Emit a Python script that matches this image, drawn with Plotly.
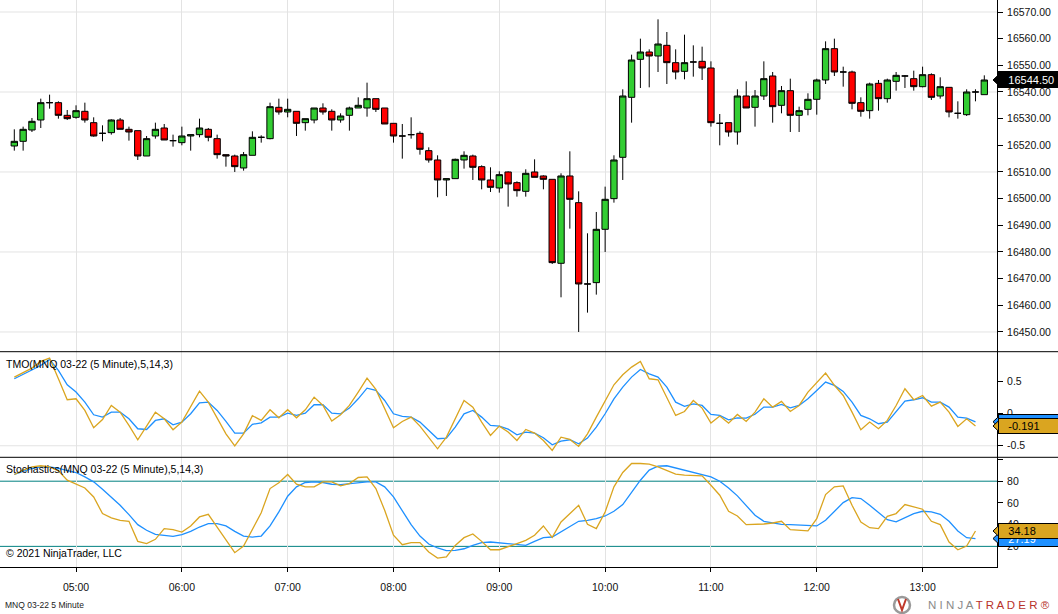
"""
MNQ 03-22 5 minute chart with TMO and Stochastics panels (NinjaTrader style)
"""

import pandas as pd
import plotly.graph_objects as go

# bar times (5 minute bars)
TIMES = pd.date_range("2021-12-13 04:25", periods=111, freq="5min")

OPEN = [16519.75, 16521.5, 16525.75, 16529.5, 16536.0, 16536.0, 16531.25, 16530.5, 16532.75, 16528.5,
        16524.5, 16524.75, 16529.5, 16526.0, 16525.5, 16516.0, 16523.5, 16526.5, 16521.75, 16521.0,
        16523.5, 16524.0, 16526.0, 16522.5, 16516.5, 16516.0, 16511.5, 16516.25, 16523.0, 16522.5,
        16534.25, 16532.5, 16532.75, 16528.5, 16529.5, 16534.0, 16532.75, 16529.5, 16531.25, 16534.0,
        16534.0, 16537.5, 16534.0, 16528.25, 16523.5, 16524.0, 16524.5, 16518.0, 16514.5, 16507.0,
        16507.5, 16514.5, 16516.0, 16512.0, 16507.0, 16504.0, 16510.0, 16506.0, 16502.75, 16510.0,
        16508.5, 16507.25, 16475.75, 16508.5, 16498.5, 16468.0, 16468.5, 16488.5, 16500.0, 16515.5,
        16538.0, 16552.25, 16555.0, 16553.5, 16557.5, 16551.0, 16547.75, 16551.25, 16551.5, 16549.0,
        16528.25, 16528.5, 16525.0, 16538.5, 16534.25, 16538.5, 16546.0, 16535.0, 16540.5, 16531.25,
        16533.5, 16537.25, 16544.5, 16556.25, 16547.5, 16547.5, 16536.0, 16533.0, 16543.25, 16537.5,
        16544.0, 16546.0, 16545.0, 16542.0, 16546.5, 16538.5, 16541.75, 16532.0, 16531.5, 16540.0,
        16539.0]
HIGH = [16526.0, 16527.0, 16530.25, 16537.5, 16539.0, 16536.5, 16533.25, 16535.0, 16536.0, 16530.5,
        16527.5, 16529.75, 16530.25, 16527.0, 16525.5, 16523.5, 16528.5, 16528.0, 16524.0, 16527.0,
        16524.0, 16530.0, 16526.5, 16524.0, 16516.5, 16516.5, 16517.5, 16525.25, 16523.75, 16536.0,
        16537.5, 16537.5, 16532.75, 16530.0, 16534.0, 16535.75, 16533.5, 16532.0, 16534.5, 16538.0,
        16543.5, 16537.5, 16534.0, 16528.25, 16528.0, 16530.5, 16525.25, 16519.25, 16516.25, 16507.5,
        16515.0, 16517.75, 16516.5, 16512.5, 16511.75, 16510.25, 16510.25, 16506.5, 16511.0, 16514.75,
        16508.75, 16507.25, 16509.5, 16517.75, 16502.75, 16487.0, 16495.0, 16504.5, 16516.25, 16541.0,
        16554.0, 16560.0, 16556.0, 16567.25, 16562.5, 16556.0, 16561.5, 16557.5, 16557.0, 16551.5,
        16531.75, 16528.5, 16541.0, 16544.0, 16540.75, 16551.5, 16547.5, 16542.25, 16545.0, 16534.5,
        16539.5, 16545.0, 16559.0, 16560.0, 16549.5, 16548.0, 16538.0, 16543.5, 16544.5, 16545.0,
        16547.5, 16546.25, 16548.0, 16549.5, 16547.0, 16545.5, 16541.75, 16536.5, 16541.0, 16541.0,
        16546.25]
LOW = [16518.0, 16518.0, 16525.0, 16526.5, 16533.75, 16530.0, 16529.5, 16530.0, 16528.5, 16523.25,
       16521.5, 16524.0, 16526.0, 16521.75, 16514.5, 16516.0, 16522.5, 16522.0, 16519.5, 16520.0,
       16518.0, 16523.0, 16521.5, 16515.0, 16512.0, 16510.0, 16510.5, 16516.25, 16521.0, 16522.25,
       16531.5, 16530.5, 16523.5, 16525.5, 16528.25, 16531.5, 16525.5, 16528.5, 16525.5, 16534.0,
       16530.75, 16532.5, 16528.0, 16521.0, 16515.0, 16522.5, 16516.5, 16513.5, 16500.5, 16501.0,
       16507.5, 16511.25, 16507.0, 16503.5, 16502.5, 16502.25, 16497.0, 16500.75, 16500.75, 16508.0,
       16503.5, 16475.5, 16463.0, 16488.75, 16450.0, 16457.25, 16464.0, 16480.0, 16498.5, 16507.0,
       16528.5, 16541.5, 16541.75, 16547.5, 16543.0, 16544.75, 16544.75, 16545.75, 16544.5, 16527.0,
       16520.0, 16523.25, 16520.25, 16534.0, 16527.0, 16537.0, 16528.5, 16532.0, 16525.0, 16525.0,
       16531.25, 16531.5, 16543.0, 16546.0, 16542.0, 16533.5, 16530.75, 16530.0, 16533.0, 16536.0,
       16540.5, 16541.5, 16540.5, 16541.75, 16537.0, 16537.5, 16530.5, 16530.0, 16531.0, 16536.5,
       16539.0]
CLOSE = [16521.5, 16526.0, 16529.0, 16536.0, 16536.0, 16531.25, 16530.0, 16533.0, 16529.5, 16523.5,
         16524.5, 16529.5, 16526.0, 16525.0, 16516.0, 16522.5, 16526.0, 16522.0, 16521.75, 16523.5,
         16524.0, 16526.5, 16523.0, 16516.5, 16516.0, 16512.0, 16516.5, 16523.0, 16523.0, 16534.5,
         16532.5, 16533.5, 16528.25, 16530.0, 16534.0, 16532.5, 16529.5, 16531.0, 16534.0, 16535.0,
         16537.5, 16533.5, 16528.0, 16523.5, 16523.5, 16524.0, 16518.5, 16514.5, 16507.0, 16507.5,
         16514.75, 16516.25, 16511.75, 16507.0, 16504.25, 16509.0, 16505.5, 16503.0, 16509.5, 16508.0,
         16507.25, 16476.0, 16508.5, 16499.75, 16468.0, 16468.0, 16488.5, 16499.75, 16514.5, 16538.5,
         16552.0, 16555.0, 16553.5, 16558.0, 16551.0, 16547.5, 16551.0, 16551.25, 16549.0, 16528.5,
         16528.25, 16525.0, 16538.5, 16534.0, 16538.5, 16545.0, 16534.5, 16540.5, 16531.25, 16533.0,
         16537.25, 16544.5, 16556.25, 16547.5, 16547.5, 16535.75, 16532.75, 16543.0, 16537.5, 16544.5,
         16546.25, 16546.0, 16542.0, 16546.5, 16538.0, 16542.0, 16532.5, 16532.0, 16540.0, 16540.0,
         16544.5]

# TMO(5,14,3): main line (goldenrod) and signal (dodger blue), last bar not calculated yet
TMO_MAIN = [0.573, 0.641, 0.714, 0.818, 0.870, 0.547, 0.219, 0.234, 0.052, -0.219,
            -0.089, 0.130, 0.026, -0.182, -0.406, -0.193, 0.026, -0.078, -0.250, -0.130,
            0.104, 0.354, 0.182, -0.068, -0.313, -0.500, -0.313, -0.030, -0.104, 0.063,
            -0.063, 0.063, -0.063, 0.063, 0.260, 0.130, -0.115, -0.016, 0.130, 0.339,
            0.557, 0.380, 0.078, -0.219, -0.120, -0.052, -0.193, -0.375, -0.547, -0.365,
            -0.078, 0.208, 0.104, -0.130, -0.339, -0.193, -0.286, -0.417, -0.245, -0.302,
            -0.417, -0.573, -0.365, -0.401, -0.510, -0.313, -0.052, 0.208, 0.453, 0.609,
            0.729, 0.818, 0.547, 0.531, 0.260, -0.026, 0.036, 0.208, 0.089, -0.146,
            -0.036, -0.146, -0.010, -0.120, 0.026, 0.234, 0.104, 0.193, 0.036, 0.130,
            0.339, 0.495, 0.635, 0.443, 0.286, 0.026, -0.250, -0.130, -0.234, -0.104,
            0.130, 0.391, 0.219, 0.286, 0.120, 0.182, 0.026, -0.198, -0.078, -0.191]
TMO_SIGNAL = [0.547, 0.615, 0.688, 0.755, 0.849, 0.677, 0.453, 0.339, 0.182, -0.016,
              -0.052, 0.026, 0.026, -0.078, -0.234, -0.245, -0.104, -0.078, -0.172, -0.130,
              0.000, 0.172, 0.182, 0.052, -0.120, -0.302, -0.302, -0.165, -0.141, -0.052,
              -0.052, 0.010, -0.026, 0.010, 0.141, 0.141, 0.010, 0.000, 0.089, 0.234,
              0.401, 0.365, 0.208, 0.000, -0.042, -0.052, -0.130, -0.260, -0.390, -0.380,
              -0.208, 0.000, 0.052, -0.052, -0.182, -0.193, -0.240, -0.328, -0.286, -0.302,
              -0.375, -0.484, -0.427, -0.406, -0.469, -0.380, -0.208, 0.000, 0.234, 0.417,
              0.573, 0.693, 0.625, 0.573, 0.417, 0.182, 0.115, 0.156, 0.130, -0.010,
              -0.026, -0.094, -0.063, -0.068, -0.008, 0.104, 0.104, 0.146, 0.094, 0.130,
              0.234, 0.365, 0.495, 0.443, 0.349, 0.182, -0.026, -0.078, -0.156, -0.130,
              0.026, 0.198, 0.219, 0.250, 0.182, 0.182, 0.104, -0.052, -0.068, -0.125]

# Stochastics(5,14,3): K (goldenrod) and D (dodger blue)
STOCH_K = [86.2, 90.2, 93.2, 94.2, 93.2, 89.5, 80.9, 77.2, 73.8, 65.5,
           50.2, 46.2, 44.0, 43.1, 24.6, 22.5, 26.5, 36.3, 35.4, 33.2,
           38.8, 47.1, 49.5, 37.8, 25.5, 14.2, 20.3, 35.0, 51.0, 73.2,
           78.5, 86.2, 77.2, 74.8, 74.8, 79.4, 79.4, 75.7, 77.8, 83.4,
           84.0, 73.2, 53.2, 30.2, 21.5, 23.4, 23.4, 14.8, 9.2, 10.2,
           20.9, 28.0, 31.4, 24.6, 16.9, 16.9, 19.4, 22.5, 25.5, 30.2,
           38.8, 28.3, 42.5, 50.2, 57.8, 40.3, 36.3, 51.7, 74.8, 88.0,
           96.3, 96.3, 95.7, 93.2, 89.5, 86.5, 85.5, 85.5, 84.9, 76.3,
           67.1, 52.3, 48.0, 40.0, 40.0, 40.6, 41.5, 43.1, 35.4, 34.8,
           34.2, 45.5, 67.7, 74.8, 75.7, 57.8, 42.5, 37.2, 36.3, 47.7,
           50.2, 58.5, 56.3, 54.2, 43.1, 40.0, 24.0, 16.9, 20.3, 34.18]
STOCH_D = [86.2, 89.2, 91.7, 93.2, 93.2, 91.7, 90.2, 88.0, 84.0, 79.4,
           72.6, 65.5, 57.8, 49.2, 40.0, 34.8, 31.1, 30.2, 29.2, 30.8,
           33.8, 37.8, 40.9, 40.9, 38.8, 33.8, 29.5, 28.5, 29.5, 38.8,
           51.7, 66.2, 74.8, 78.8, 79.4, 78.8, 77.2, 76.9, 77.8, 78.5,
           79.4, 79.4, 74.8, 65.5, 52.3, 40.0, 29.5, 22.2, 18.5, 16.0,
           16.3, 17.8, 20.9, 23.4, 24.0, 23.1, 22.2, 21.5, 20.9, 24.6,
           28.0, 28.6, 33.2, 37.8, 43.1, 44.0, 45.5, 48.0, 52.3, 58.5,
           70.2, 80.9, 90.2, 93.8, 94.2, 92.3, 90.2, 88.0, 86.5, 84.0,
           80.0, 73.8, 66.5, 57.2, 48.6, 43.1, 41.5, 40.3, 40.0, 39.4,
           38.8, 38.8, 44.0, 52.3, 60.3, 64.9, 64.0, 57.8, 50.8, 44.6,
           42.5, 46.2, 50.2, 52.3, 51.7, 49.5, 43.1, 34.2, 28.0, 27.19]

STOCH_LEVELS = [20, 80]
STOCH_TICKS = [20, 40, 60, 80, 100]
TMO_TICKS = [-0.5, 0, 0.5]
TMO_GRID = [-0.5]
PRICE_GRID = [16450, 16480, 16510, 16540, 16570]

GREEN = "#32CD32"
RED = "#FF0000"
GOLD = "#DAA520"
BLUE = "#1E90FF"
TEAL = "#008080"
GRID = "#E3E3E3"
FONT = "Arial, 'Liberation Sans', sans-serif"


def add_tag(fig, yref, value, text, bg, fg, h=12):
    """Right-hand value marker (notched box) like NinjaTrader's price markers"""
    fig.add_shape(type="path", xref="paper", yref=yref,
                  xsizemode="pixel", ysizemode="pixel", xanchor=1.001, yanchor=value,
                  path="M 3 -7.5 L -5 0 L 3 7.5 Z",
                  fillcolor=bg, line=dict(color="black", width=1), layer="above")
    fig.add_annotation(xref="paper", yref=yref, x=1.001, y=value, xanchor="left", yanchor="middle",
                       text="\u00a0\u00a0\u2009" + text, showarrow=False, align="left",
                       width=62, height=h,
                       bgcolor=bg, bordercolor="black", borderwidth=1, borderpad=1,
                       font=dict(family=FONT, size=11, color=fg))


def create_chart(output_path="out.html"):
    fig = go.Figure()

    ind_x = TIMES[:len(TMO_MAIN)]

    fig.add_trace(go.Candlestick(
        x=TIMES, open=OPEN, high=HIGH, low=LOW, close=CLOSE,
        increasing=dict(fillcolor=GREEN, line=dict(color="black", width=1)),
        decreasing=dict(fillcolor=RED, line=dict(color="black", width=1)),
        whiskerwidth=0, hoverinfo="skip", showlegend=False, xaxis="x", yaxis="y"))

    fig.add_trace(go.Scatter(x=ind_x, y=TMO_SIGNAL, mode="lines", line=dict(color=BLUE, width=1.3),
                             xaxis="x2", yaxis="y2", showlegend=False, hoverinfo="skip"))
    fig.add_trace(go.Scatter(x=ind_x, y=TMO_MAIN, mode="lines", line=dict(color=GOLD, width=1.3),
                             xaxis="x2", yaxis="y2", showlegend=False, hoverinfo="skip"))
    fig.add_trace(go.Scatter(x=ind_x, y=STOCH_D, mode="lines", line=dict(color=BLUE, width=1.3),
                             xaxis="x3", yaxis="y3", showlegend=False, hoverinfo="skip"))
    fig.add_trace(go.Scatter(x=ind_x, y=STOCH_K, mode="lines", line=dict(color=GOLD, width=1.3),
                             xaxis="x3", yaxis="y3", showlegend=False, hoverinfo="skip"))

    # panel heights in pixels of a 567px plot area
    plot_h = 567.0
    price_dom = [1 - 351.7 / plot_h, 1]
    tmo_dom = [1 - 457.3 / plot_h, 1 - 351.7 / plot_h]
    stoch_dom = [0, 1 - 457.3 / plot_h]

    x_range = ["2021-12-13 04:16:53", "2021-12-13 13:42:12"]
    xcommon = dict(type="date", range=x_range, showgrid=True, gridcolor=GRID, gridwidth=1,
                   tick0="2021-12-13 05:00", dtick=3600000, zeroline=False, fixedrange=True)
    ycommon = dict(side="right", showgrid=False, zeroline=False, showline=True, linecolor="black",
                   linewidth=1, ticks="outside", ticklen=5, tickcolor="black", ticklabelstandoff=2,
                   tickfont=dict(family=FONT, size=10.5, color="#111"))

    fig.update_layout(
        width=1058, height=614, autosize=False,
        margin=dict(l=0, r=61, t=0, b=47, pad=0),
        paper_bgcolor="white", plot_bgcolor="white",
        hovermode=False, showlegend=False,
        boxgap=0.28, boxgroupgap=0,
        font=dict(family=FONT, size=10.5, color="#111"),
        xaxis=dict(**xcommon, anchor="y", showticklabels=False, ticks="",
                   rangeslider=dict(visible=False)),
        xaxis2=dict(**xcommon, anchor="y2", showticklabels=False, ticks=""),
        xaxis3=dict(**xcommon, anchor="y3", showticklabels=True, tickformat="%H:%M",
                    ticks="outside", ticklen=4, tickcolor="black", ticklabelstandoff=6,
                    showline=True, linecolor="black", linewidth=1,
                    tickfont=dict(family=FONT, size=10.5, color="#111")),
        yaxis=dict(**ycommon, domain=price_dom, anchor="x", range=[16442.6, 16574.5],
                   dtick=10, tickformat=".2f"),
        yaxis2=dict(**ycommon, domain=tmo_dom, anchor="x2", range=[-0.68, 0.97],
                    tickvals=TMO_TICKS, ticktext=["-0.5", "0", "0.5"]),
        yaxis3=dict(**ycommon, domain=stoch_dom, anchor="x3", range=[1, 102],
                    tickvals=STOCH_TICKS, ticktext=["20", "40", "60", "80", ""]),
    )

    # price grid every 30 points, TMO grid, stochastic levels
    for g in PRICE_GRID:
        fig.add_shape(type="line", xref="x domain", yref="y", x0=0, x1=1, y0=g, y1=g,
                      line=dict(color=GRID, width=1), layer="below")
    for g in TMO_GRID:
        fig.add_shape(type="line", xref="x2 domain", yref="y2", x0=0, x1=1, y0=g, y1=g,
                      line=dict(color=GRID, width=1), layer="below")
    for lvl in STOCH_LEVELS:
        fig.add_shape(type="line", xref="x3 domain", yref="y3", x0=0, x1=1, y0=lvl, y1=lvl,
                      line=dict(color=TEAL, width=1), layer="below")

    # panel separators
    for y in [tmo_dom[1], stoch_dom[1]]:
        fig.add_shape(type="line", xref="paper", yref="paper", x0=0, x1=1058 / 997, y0=y, y1=y,
                      line=dict(color="black", width=1))

    # panel labels
    fig.add_annotation(xref="x2 domain", yref="y2 domain", x=0.004, y=1, xanchor="left", yanchor="top",
                       yshift=-4, showarrow=False, text="TMO(MNQ 03-22 (5 Minute),5,14,3)",
                       font=dict(family=FONT, size=10.5, color="black"))
    fig.add_annotation(xref="x3 domain", yref="y3 domain", x=0.004, y=1, xanchor="left", yanchor="top",
                       yshift=-4, showarrow=False, text="Stochastics(MNQ 03-22 (5 Minute),5,14,3)",
                       font=dict(family=FONT, size=10.5, color="black"))
    fig.add_annotation(xref="x3 domain", yref="y3 domain", x=0.004, y=0, xanchor="left", yanchor="bottom",
                       yshift=6, showarrow=False, text="© 2021 NinjaTrader, LLC",
                       font=dict(family=FONT, size=10.5, color="black"))
    fig.add_annotation(xref="paper", yref="paper", x=0.003, y=0, xanchor="left", yanchor="middle",
                       yshift=-38, showarrow=False, text="MNQ 03-22 5 Minute",
                       font=dict(family=FONT, size=8.5, color="#222"))

    # NinjaTrader logo
    fig.add_shape(type="circle", xref="paper", yref="paper", xsizemode="pixel", ysizemode="pixel",
                  xanchor=902 / 997, yanchor=-38 / plot_h, x0=-8, x1=8, y0=-8, y1=8,
                  line=dict(color="#9a9a9a", width=2.5))
    fig.add_shape(type="path", xref="paper", yref="paper", xsizemode="pixel", ysizemode="pixel",
                  xanchor=902 / 997, yanchor=-38 / plot_h, path="M -4 6 L 0 -5 L 4 6",
                  line=dict(color="#c0392b", width=2))
    fig.add_annotation(xref="paper", yref="paper", x=1052 / 997, y=0, xanchor="right", yanchor="middle",
                       yshift=-38, showarrow=False,
                       text="<span style='color:#8a8a8a'>N I N J A </span>"
                            "<span style='color:#b8322a'>T R A D E R ®</span>",
                       font=dict(family=FONT, size=11.5))

    # value markers on the right
    add_tag(fig, "y", CLOSE[-1], f"{CLOSE[-1]:.2f}", "black", "white", h=13)
    add_tag(fig, "y2", TMO_SIGNAL[-1], f"{TMO_SIGNAL[-1]:.3f}", BLUE, "white")
    add_tag(fig, "y2", TMO_MAIN[-1], f"{TMO_MAIN[-1]:.3f}", GOLD, "black")
    add_tag(fig, "y3", STOCH_D[-1], f"{STOCH_D[-1]:.2f}", BLUE, "white")
    add_tag(fig, "y3", STOCH_K[-1], f"{STOCH_K[-1]:.2f}", GOLD, "black")

    # the page is photographed from its top-left corner: drop the default body margin
    fig.write_html(output_path, config={"displayModeBar": False},
                   post_script="document.body.style.margin='0';")


if __name__ == "__main__":
    create_chart()
